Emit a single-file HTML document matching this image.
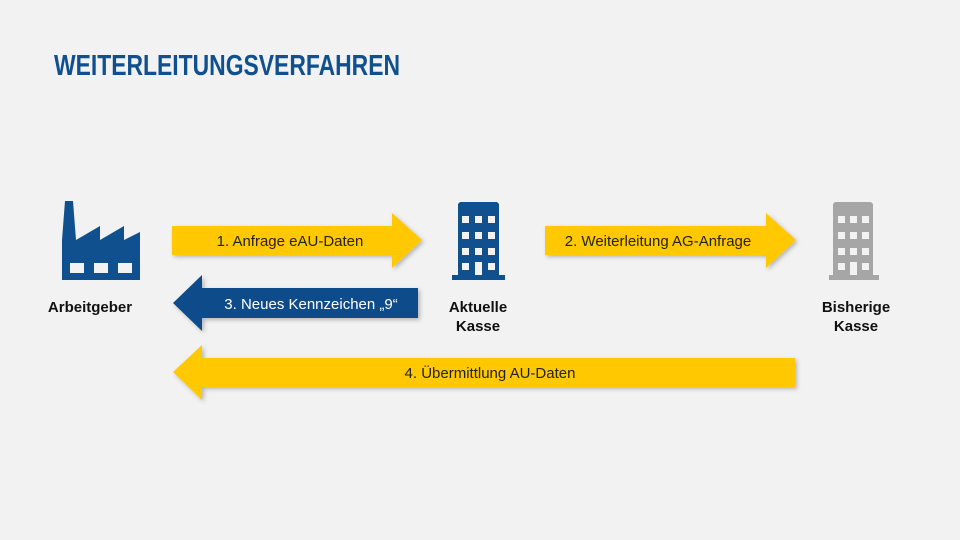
<!DOCTYPE html>
<html><head><meta charset="utf-8"><style>
html,body{margin:0;padding:0;background:#f2f2f2;}
svg{display:block;}
</style></head><body>
<svg width="960" height="540" viewBox="0 0 960 540" xmlns="http://www.w3.org/2000/svg">
<rect width="960" height="540" fill="#f2f2f2"/>
<defs><filter id="sh" x="-10%" y="-30%" width="120%" height="160%"><feDropShadow dx="2" dy="2" stdDeviation="2" flood-color="#000" flood-opacity="0.25"/></filter></defs>
<text x="54" y="75" font-family="Liberation Sans Narrow, Liberation Sans, sans-serif" font-weight="bold" font-size="29" fill="#11508f" textLength="346" lengthAdjust="spacingAndGlyphs">WEITERLEITUNGSVERFAHREN</text>
<path d="M62 280 V240 L65 201 H73 L76 240 L100 226 V240 L124 226 V240 L140 232 V280 Z" fill="#11508f"/>
<rect x="70" y="263" width="14" height="10" fill="#f2f2f2"/>
<rect x="94" y="263" width="14" height="10" fill="#f2f2f2"/>
<rect x="118" y="263" width="14" height="10" fill="#f2f2f2"/>
<path d="M458 204 L460 202 H497 L499 204 V275 H505 V280 H452 V275 H458 Z" fill="#11508f"/>
<g fill="#f2f2f2">
<rect x="462" y="216" width="7" height="7"/><rect x="475" y="216" width="7" height="7"/><rect x="488" y="216" width="7" height="7"/>
<rect x="462" y="232" width="7" height="7"/><rect x="475" y="232" width="7" height="7"/><rect x="488" y="232" width="7" height="7"/>
<rect x="462" y="248" width="7" height="7"/><rect x="475" y="248" width="7" height="7"/><rect x="488" y="248" width="7" height="7"/>
<rect x="462" y="263" width="7" height="7"/><rect x="475" y="262" width="7" height="13"/><rect x="488" y="263" width="7" height="7"/>
</g>
<path d="M833 204 L835 202 H871 L873 204 V275 H879 V280 H829 V275 H833 Z" fill="#a6a6a6"/>
<g fill="#f2f2f2">
<rect x="838" y="216" width="7" height="7"/><rect x="850" y="216" width="7" height="7"/><rect x="862" y="216" width="7" height="7"/>
<rect x="838" y="232" width="7" height="7"/><rect x="850" y="232" width="7" height="7"/><rect x="862" y="232" width="7" height="7"/>
<rect x="838" y="248" width="7" height="7"/><rect x="850" y="248" width="7" height="7"/><rect x="862" y="248" width="7" height="7"/>
<rect x="838" y="263" width="7" height="7"/><rect x="850" y="262" width="7" height="13"/><rect x="862" y="263" width="7" height="7"/>
</g>
<g filter="url(#sh)">
<path d="M172 226 H392 V213 L422 240 L392 268 V255 H172 Z" fill="#ffc800"/>
<path d="M545 226 H766 V213 L796 240 L766 268 V255 H545 Z" fill="#ffc800"/>
<path d="M418 288 H202 V275 L173 303 L202 331 V318 H418 Z" fill="#0f4c8a"/>
<path d="M795 358 H202 V345 L173 372 L202 400 V387 H795 Z" fill="#ffc800"/>
</g>
<g font-family="Liberation Sans, sans-serif" font-size="15" text-anchor="middle">
<text x="290" y="246" fill="#222">1. Anfrage eAU-Daten</text>
<text x="658" y="246" fill="#222">2. Weiterleitung AG-Anfrage</text>
<text x="311" y="309" fill="#fff">3. Neues Kennzeichen „9“</text>
<text x="490" y="378" fill="#222">4. Übermittlung AU-Daten</text>
</g>
<g font-family="Liberation Sans, sans-serif" font-size="15" font-weight="bold" text-anchor="middle" fill="#111">
<text x="90" y="312">Arbeitgeber</text>
<text x="478" y="312">Aktuelle</text>
<text x="478" y="331">Kasse</text>
<text x="856" y="312">Bisherige</text>
<text x="856" y="331">Kasse</text>
</g>
</svg>
</body></html>
